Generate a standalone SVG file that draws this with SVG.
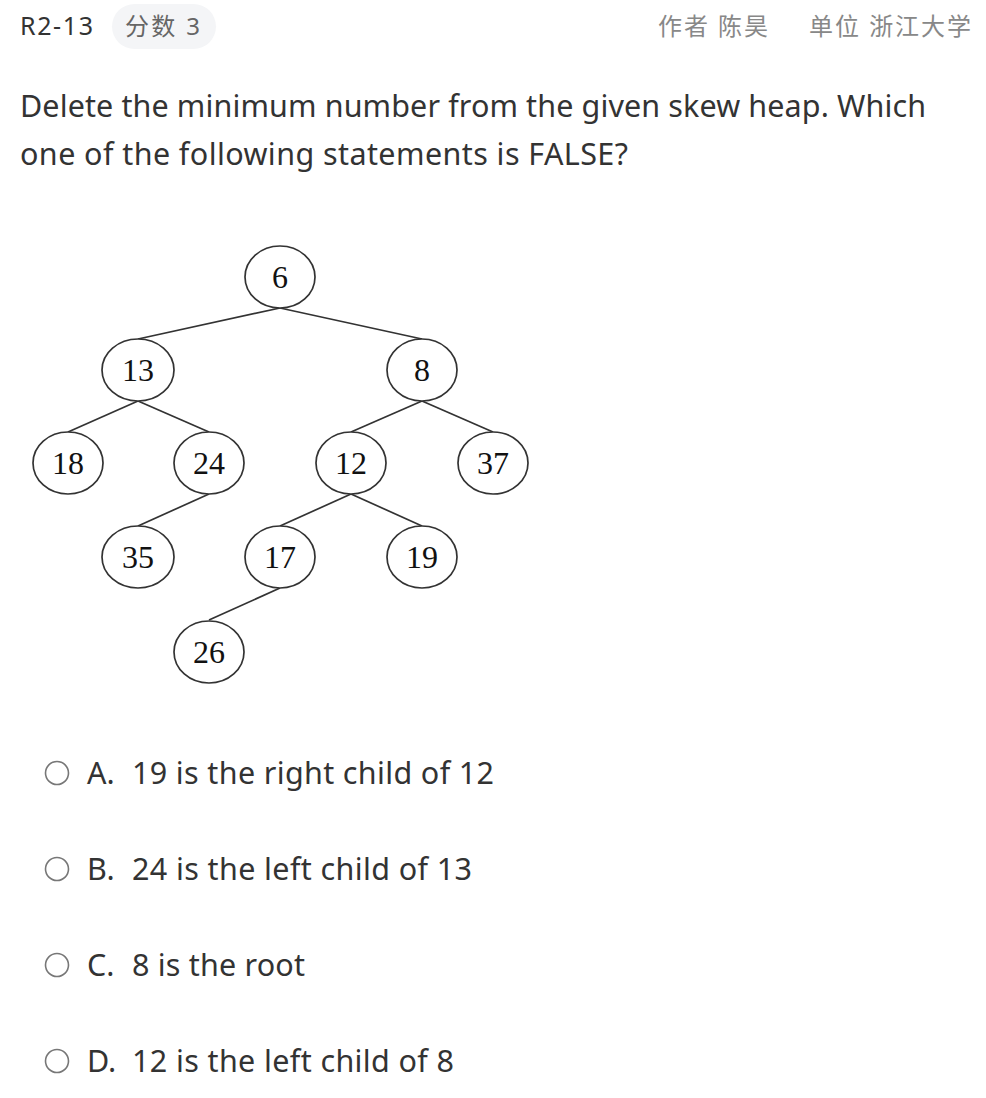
<svg xmlns="http://www.w3.org/2000/svg" width="986" height="1098" viewBox="0 0 986 1098">
<style>
.hdr{font-family:"Noto Sans","Noto Sans CJK SC",sans-serif;font-size:24px}
.q{font-family:"Noto Sans","Liberation Sans",sans-serif;font-size:30.5px;fill:#333}
.node ellipse{fill:#fff;stroke:#333;stroke-width:1.7}
.node text{font-family:"Liberation Serif","Times New Roman",serif;font-size:32px;fill:#111;text-anchor:middle}
.edges line{stroke:#333;stroke-width:1.7}
.radio{fill:#fff;stroke:#777;stroke-width:1.6}
</style>
<rect width="986" height="1098" fill="#fff"/>
<text class="hdr" x="20" y="35" fill="#333" style="font-size:25px" textLength="73">R2-13</text>
<rect x="112" y="4" width="104" height="45" rx="22.5" fill="#f4f5f7"/>
<text class="hdr" x="125" y="35" fill="#666" textLength="75">分数 3</text>
<text class="hdr" x="658" y="35" fill="#888" textLength="110">作者 陈昊</text>
<text class="hdr" x="809" y="35" fill="#888" textLength="162">单位 浙江大学</text>
<text class="q" x="20" y="117" textLength="906">Delete the minimum number from the given skew heap. Which</text>
<text class="q" x="20" y="165" textLength="608">one of the following statements is FALSE?</text>
<g class="edges">
<line x1="280" y1="308" x2="138" y2="339"/>
<line x1="280" y1="308" x2="422" y2="339"/>
<line x1="138" y1="401" x2="68" y2="432"/>
<line x1="138" y1="401" x2="209" y2="432"/>
<line x1="422" y1="401" x2="351" y2="432"/>
<line x1="422" y1="401" x2="493" y2="432"/>
<line x1="209" y1="494" x2="138" y2="526"/>
<line x1="351" y1="494" x2="280" y2="526"/>
<line x1="351" y1="494" x2="422" y2="526"/>
<line x1="280" y1="588" x2="209" y2="620"/>
</g>
<g id="n6" class="node"><ellipse cx="280" cy="277" rx="35" ry="31"/><text x="280" y="288">6</text></g>
<g id="n13" class="node"><ellipse cx="138" cy="370" rx="36" ry="31"/><text x="138" y="381">13</text></g>
<g id="n8" class="node"><ellipse cx="422" cy="370" rx="35" ry="31"/><text x="422" y="381">8</text></g>
<g id="n18" class="node"><ellipse cx="68" cy="463" rx="35" ry="31"/><text x="68" y="474">18</text></g>
<g id="n24" class="node"><ellipse cx="209" cy="463" rx="35" ry="31"/><text x="209" y="474">24</text></g>
<g id="n12" class="node"><ellipse cx="351" cy="463" rx="35" ry="31"/><text x="351" y="474">12</text></g>
<g id="n37" class="node"><ellipse cx="493" cy="463" rx="35" ry="31"/><text x="493" y="474">37</text></g>
<g id="n35" class="node"><ellipse cx="138" cy="557" rx="36" ry="31"/><text x="138" y="568">35</text></g>
<g id="n17" class="node"><ellipse cx="280" cy="557" rx="35" ry="31"/><text x="280" y="568">17</text></g>
<g id="n19" class="node"><ellipse cx="422" cy="557" rx="35" ry="31"/><text x="422" y="568">19</text></g>
<g id="n26" class="node"><ellipse cx="209" cy="652" rx="35" ry="31"/><text x="209" y="663">26</text></g>
<g id="optA"><circle class="radio" cx="57" cy="773" r="11.5"/><text class="q" x="87" y="784">A.</text><text class="q" x="132" y="784" textLength="362">19 is the right child of 12</text></g>
<g id="optB"><circle class="radio" cx="57" cy="869" r="11.5"/><text class="q" x="87" y="880">B.</text><text class="q" x="132" y="880" textLength="340">24 is the left child of 13</text></g>
<g id="optC"><circle class="radio" cx="57" cy="965" r="11.5"/><text class="q" x="87" y="976">C.</text><text class="q" x="132" y="976" textLength="173">8 is the root</text></g>
<g id="optD"><circle class="radio" cx="57" cy="1061" r="11.5"/><text class="q" x="87" y="1072">D.</text><text class="q" x="132" y="1072" textLength="322">12 is the left child of 8</text></g>
</svg>
